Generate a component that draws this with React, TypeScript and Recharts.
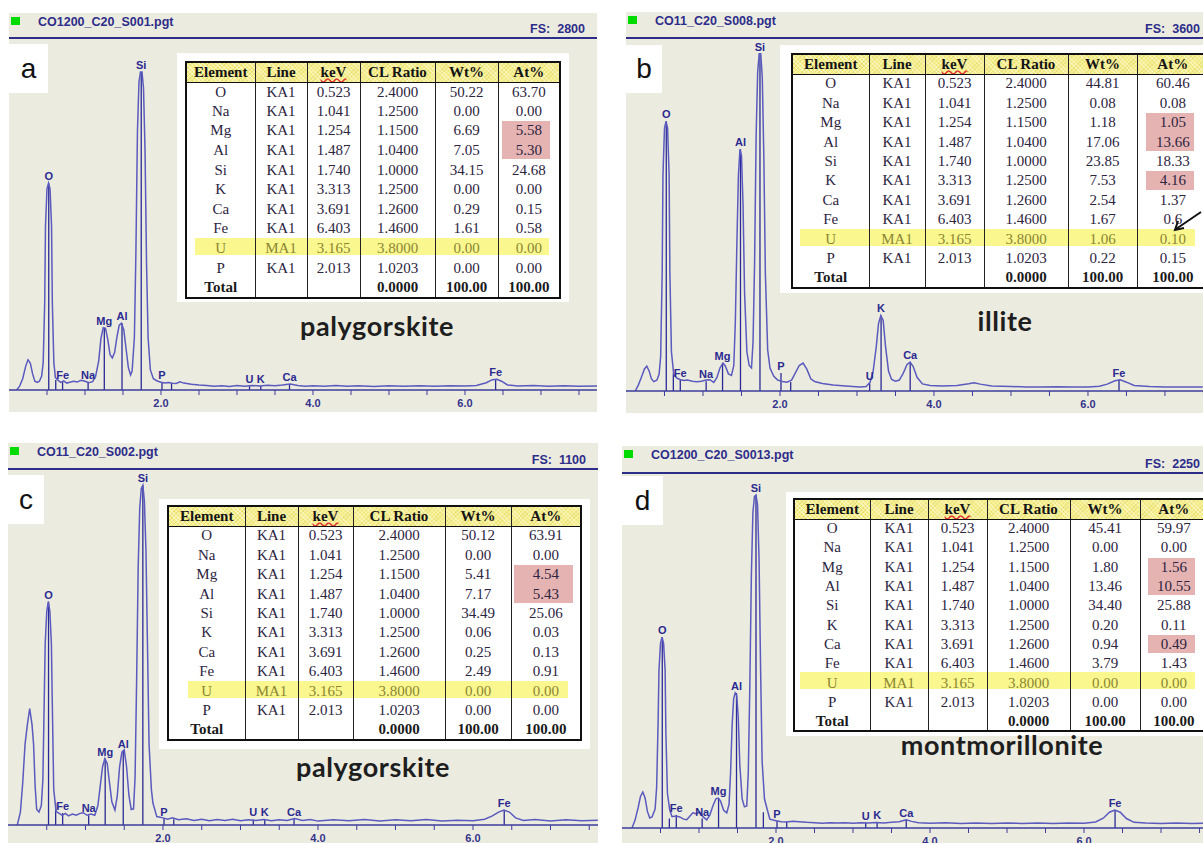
import { LineChart, Line, XAxis, YAxis, ReferenceLine, ReferenceDot } from 'recharts';

// x-axis ticks (keV), labels only on the even ones
const tickKeV = [0.5, 1.0, 1.5, 2.0, 2.5, 3.0, 3.5, 4.0, 4.5, 5.0, 5.5, 6.0, 6.5, 7.0, 7.5];

// quantification table (same rows in all four panels)
const headers = ['Element', 'Line', 'keV', 'CL Ratio', 'Wt%', 'At%'];
const elements = ['O', 'Na', 'Mg', 'Al', 'Si', 'K', 'Ca', 'Fe', 'U', 'P'];
const lineNames = ['KA1', 'KA1', 'KA1', 'KA1', 'KA1', 'KA1', 'KA1', 'KA1', 'MA1', 'KA1'];
const keVs = ['0.523', '1.041', '1.254', '1.487', '1.740', '3.313', '3.691', '6.403', '3.165', '2.013'];
const clRatios = ['2.4000', '1.2500', '1.1500', '1.0400', '1.0000', '1.2500', '1.2600', '1.4600', '3.8000', '1.0203'];
const totalRow = ['Total', '', '', '0.0000', '100.00', '100.00'];

const wtA = [50.22, 0.0, 6.69, 7.05, 34.15, 0.0, 0.29, 1.61, 0.0, 0.0];
const atA = ['63.70', '0.00', '5.58', '5.30', '24.68', '0.00', '0.15', '0.58', '0.00', '0.00'];
const wtB = [44.81, 0.08, 1.18, 17.06, 23.85, 7.53, 2.54, 1.67, 1.06, 0.22];
const atB = ['60.46', '0.08', '1.05', '13.66', '18.33', '4.16', '1.37', '0.6', '0.10', '0.15'];
const wtC = [50.12, 0.0, 5.41, 7.17, 34.49, 0.06, 0.25, 2.49, 0.0, 0.0];
const atC = ['63.91', '0.00', '4.54', '5.43', '25.06', '0.03', '0.13', '0.91', '0.00', '0.00'];
const wtD = [45.41, 0.0, 1.8, 13.46, 34.4, 0.2, 0.94, 3.79, 0.0, 0.0];
const atD = ['59.97', '0.00', '1.56', '10.55', '25.88', '0.11', '0.49', '1.43', '0.00', '0.00'];

// spectra: [keV, counts]
const spectrumA: [number, number][] = [
  [0.1, 0], [0.14, 30], [0.18, 90], [0.22, 190], [0.25, 240], [0.28, 215], [0.31, 130], [0.34, 70], [0.37, 60],
  [0.4, 70], [0.43, 110], [0.45, 220], [0.47, 700], [0.48, 1300], [0.5, 1600], [0.52, 1645], [0.54, 1600],
  [0.56, 1300], [0.57, 700], [0.59, 220], [0.61, 100], [0.64, 80], [0.68, 60], [0.72, 72], [0.76, 55], [0.8, 62],
  [0.85, 70], [0.9, 64], [0.95, 78], [1.0, 70], [1.05, 58], [1.1, 66], [1.14, 110], [1.18, 230], [1.21, 410],
  [1.24, 495], [1.27, 490], [1.3, 400], [1.33, 280], [1.36, 255], [1.39, 300], [1.42, 420], [1.45, 515],
  [1.48, 530], [1.51, 480], [1.54, 330], [1.57, 180], [1.6, 120], [1.62, 150], [1.65, 420], [1.67, 1100],
  [1.69, 2050], [1.71, 2450], [1.73, 2530], [1.75, 2530], [1.77, 2400], [1.79, 1900], [1.81, 1000], [1.83, 420],
  [1.86, 160], [1.9, 90], [1.95, 72], [2.0, 62], [2.05, 56], [2.1, 60], [2.15, 54], [2.2, 52], [2.25, 66],
  [2.3, 55], [2.4, 46], [2.5, 40], [2.6, 36], [2.7, 30], [2.8, 34], [2.9, 28], [3.0, 35], [3.1, 30], [3.2, 36],
  [3.3, 32], [3.4, 38], [3.5, 34], [3.6, 40], [3.7, 48], [3.8, 36], [3.9, 30], [4.0, 34], [4.15, 30], [4.3, 36],
  [4.45, 30], [4.6, 33], [4.8, 28], [5.0, 34], [5.2, 30], [5.4, 34], [5.6, 29], [5.8, 33], [6.0, 31], [6.15, 36],
  [6.28, 58], [6.36, 82], [6.42, 86], [6.48, 70], [6.56, 40], [6.7, 32], [6.9, 36], [7.1, 30], [7.3, 34],
  [7.5, 30], [7.74, 32],
];

const spectrumB: [number, number][] = [
  [0.12, 0], [0.16, 60], [0.2, 140], [0.24, 225], [0.27, 254], [0.3, 205], [0.33, 125], [0.36, 95], [0.4, 110],
  [0.43, 170], [0.45, 350], [0.47, 1200], [0.48, 2200], [0.5, 2680], [0.52, 2750], [0.54, 2680], [0.56, 2200],
  [0.57, 1200], [0.59, 400], [0.62, 170], [0.66, 132], [0.7, 118], [0.75, 108], [0.8, 112], [0.86, 100],
  [0.92, 95], [0.98, 100], [1.04, 112], [1.09, 115], [1.14, 88], [1.18, 135], [1.22, 235], [1.26, 285],
  [1.29, 255], [1.33, 175], [1.37, 160], [1.4, 260], [1.42, 700], [1.44, 1500], [1.46, 2200], [1.48, 2465],
  [1.5, 2400], [1.52, 1900], [1.54, 1000], [1.57, 400], [1.6, 260], [1.63, 235], [1.65, 500], [1.67, 1300],
  [1.69, 2600], [1.71, 3250], [1.73, 3440], [1.75, 3440], [1.77, 3200], [1.79, 2400], [1.81, 1200], [1.84, 420],
  [1.87, 235], [1.92, 150], [1.97, 112], [2.03, 96], [2.09, 90], [2.15, 110], [2.2, 185], [2.25, 260],
  [2.3, 285], [2.35, 220], [2.4, 125], [2.45, 96], [2.55, 76], [2.69, 61], [2.85, 52], [3.04, 42], [3.12, 46],
  [3.17, 90], [3.21, 200], [3.25, 450], [3.28, 690], [3.31, 770], [3.34, 720], [3.37, 460], [3.41, 200],
  [3.45, 118], [3.5, 100], [3.55, 112], [3.6, 180], [3.65, 270], [3.69, 295], [3.73, 250], [3.78, 140],
  [3.85, 72], [3.95, 56], [4.1, 50], [4.3, 56], [4.45, 74], [4.52, 84], [4.6, 70], [4.75, 50], [5.0, 46],
  [5.2, 42], [5.4, 40], [5.6, 43], [5.8, 40], [6.0, 42], [6.15, 48], [6.25, 70], [6.35, 105], [6.42, 114],
  [6.5, 90], [6.6, 56], [6.8, 46], [7.0, 42], [7.2, 40], [7.49, 40],
];

const spectrumC: [number, number][] = [
  [0.12, 0], [0.16, 40], [0.19, 130], [0.22, 250], [0.25, 310], [0.28, 360], [0.31, 310], [0.33, 250],
  [0.35, 120], [0.37, 48], [0.4, 40], [0.43, 60], [0.45, 140], [0.47, 420], [0.48, 560], [0.5, 660], [0.52, 690],
  [0.54, 660], [0.56, 560], [0.57, 400], [0.59, 110], [0.62, 42], [0.66, 36], [0.7, 30], [0.74, 36], [0.78, 28],
  [0.83, 34], [0.88, 30], [0.93, 36], [0.97, 38], [1.02, 30], [1.07, 34], [1.12, 30], [1.16, 60], [1.19, 120],
  [1.22, 180], [1.25, 205], [1.28, 190], [1.31, 130], [1.34, 72], [1.38, 46], [1.41, 90], [1.44, 180],
  [1.47, 225], [1.5, 232], [1.53, 180], [1.56, 92], [1.59, 48], [1.62, 50], [1.64, 150], [1.66, 450],
  [1.68, 800], [1.7, 980], [1.72, 1040], [1.74, 1050], [1.76, 1000], [1.78, 850], [1.8, 550], [1.82, 250],
  [1.85, 110], [1.87, 68], [1.92, 26], [2.0, 22], [2.06, 18], [2.12, 22], [2.2, 16], [2.3, 19], [2.4, 14],
  [2.5, 18], [2.6, 13], [2.7, 17], [2.8, 14], [2.9, 18], [3.0, 13], [3.1, 16], [3.2, 14], [3.3, 17], [3.4, 13],
  [3.5, 16], [3.6, 14], [3.7, 20], [3.8, 14], [3.9, 17], [4.0, 12], [4.2, 16], [4.4, 13], [4.6, 17], [4.8, 12],
  [5.0, 16], [5.2, 13], [5.4, 17], [5.6, 12], [5.8, 15], [6.0, 13], [6.15, 18], [6.25, 28], [6.33, 40],
  [6.4, 46], [6.47, 40], [6.55, 22], [6.65, 14], [6.8, 17], [7.0, 12], [7.2, 16], [7.4, 13], [7.61, 15],
];

const spectrumD: [number, number][] = [
  [0.13, 0], [0.17, 50], [0.21, 130], [0.24, 200], [0.27, 228], [0.3, 190], [0.33, 105], [0.36, 64], [0.39, 70],
  [0.43, 120], [0.45, 260], [0.47, 700], [0.48, 1000], [0.5, 1170], [0.52, 1210], [0.54, 1170], [0.56, 1000],
  [0.57, 600], [0.59, 220], [0.62, 114], [0.65, 72], [0.7, 76], [0.75, 70], [0.8, 56], [0.84, 52], [0.88, 75],
  [0.92, 96], [0.96, 90], [1.01, 100], [1.05, 72], [1.1, 52], [1.14, 82], [1.18, 140], [1.22, 185], [1.25, 190],
  [1.28, 170], [1.32, 112], [1.36, 96], [1.39, 150], [1.41, 350], [1.43, 650], [1.45, 820], [1.47, 856],
  [1.49, 840], [1.51, 700], [1.53, 400], [1.56, 185], [1.59, 134], [1.62, 140], [1.64, 350], [1.66, 900],
  [1.68, 1600], [1.7, 2000], [1.72, 2100], [1.74, 2110], [1.76, 2050], [1.78, 1700], [1.8, 1000], [1.82, 420],
  [1.85, 185], [1.88, 128], [1.92, 56], [2.0, 46], [2.07, 40], [2.14, 38], [2.22, 42], [2.3, 40], [2.4, 36],
  [2.5, 34], [2.6, 30], [2.7, 34], [2.8, 31], [2.9, 33], [3.0, 30], [3.1, 34], [3.2, 31], [3.3, 35], [3.4, 32],
  [3.5, 36], [3.6, 40], [3.69, 52], [3.76, 42], [3.85, 34], [4.0, 30], [4.2, 33], [4.4, 29], [4.6, 32],
  [4.8, 28], [5.0, 31], [5.2, 29], [5.4, 32], [5.6, 28], [5.8, 31], [6.0, 30], [6.15, 38], [6.25, 62],
  [6.33, 100], [6.4, 114], [6.47, 100], [6.55, 60], [6.65, 36], [6.8, 32], [7.0, 29], [7.2, 31], [7.4, 28],
  [7.55, 30],
];

// element marker lines: [label, keV, height in counts]
const markersA: [string, number, number][] = [
  ['O', 0.523, 1645], ['', 0.615, 80], ['Fe', 0.705, 64], ['Na', 1.041, 64], ['Mg', 1.254, 495],
  ['Al', 1.487, 530], ['Si', 1.74, 2530], ['P', 2.013, 62], ['', 2.139, 56], ['U', 3.165, 32], ['K', 3.313, 32],
  ['Ca', 3.691, 46], ['Fe', 6.403, 84],
];
const markersB: [string, number, number][] = [
  ['O', 0.523, 2750], ['', 0.615, 180], ['Fe', 0.705, 112], ['Na', 1.041, 100], ['Mg', 1.254, 285],
  ['Al', 1.487, 2465], ['Si', 1.74, 3440], ['P', 2.013, 183], ['', 2.139, 92], ['U', 3.165, 80], ['K', 3.313, 770],
  ['Ca', 3.691, 295], ['Fe', 6.403, 114],
];
const markersC: [string, number, number][] = [
  ['O', 0.523, 690], ['', 0.615, 68], ['Fe', 0.705, 37], ['Na', 1.041, 30], ['Mg', 1.254, 205],
  ['Al', 1.487, 230], ['Si', 1.74, 1050], ['P', 2.013, 20], ['', 2.139, 18], ['U', 3.165, 17], ['K', 3.313, 17],
  ['Ca', 3.691, 20], ['Fe', 6.403, 46],
];
const markersD: [string, number, number][] = [
  ['O', 0.523, 1210], ['', 0.615, 60], ['Fe', 0.705, 82], ['Na', 1.041, 60], ['Mg', 1.254, 190],
  ['Al', 1.487, 856], ['Si', 1.74, 2110], ['', 1.836, 100], ['P', 2.013, 46], ['', 2.139, 40], ['U', 3.165, 34],
  ['K', 3.313, 35], ['Ca', 3.691, 52], ['Fe', 6.403, 114],
];

const SANS = '"Liberation Sans", Arial, sans-serif';
const SERIF = '"Liberation Serif", "Times New Roman", serif';
const NAVY = '#2d2d8a';
const PANEL_BG = '#ECEBDF';

const panels = [
  {
    letter: 'a', file: 'CO1200_C20_S001.pgt', fs: 2800, mineral: 'palygorskite',
    spectrum: spectrumA, markers: markersA, wt: wtA, at: atA, pink: [[2, 2]],
    box: { x: 9, y: 13, w: 588, h: 399 }, topY: 38, baseY: 390, maxKeV: 7.737, fsRight: 12,
    letterBox: { x: 9, y: 44, w: 39, h: 49 }, mineralPos: { x: 377, y: 326 },
    table: { bgX: 177, bgY: 53, bgW: 392, bgH: 249, x: 185, y: 61, cols: [69, 52, 53, 75, 63, 62], rowH: 19.6, pinkW: 48, u: [10, 364] },
  },
  {
    letter: 'b', file: 'CO11_C20_S008.pgt', fs: 3600, mineral: 'illite',
    spectrum: spectrumB, markers: markersB, wt: wtB, at: atB, pink: [[2, 2], [5, 1]],
    box: { x: 626, y: 12, w: 577, h: 401 }, topY: 38, baseY: 391, maxKeV: 7.494, fsRight: 3,
    letterBox: { x: 626, y: 45, w: 36, h: 48 }, mineralPos: { x: 1005, y: 321 },
    table: { bgX: 780, bgY: 45, bgW: 423, bgH: 248, x: 791, y: 53, cols: [77, 56, 59, 84, 69, 72], rowH: 19.45, pinkW: 48, u: [9, 404] },
  },
  {
    letter: 'c', file: 'CO11_C20_S002.pgt', fs: 1100, mineral: 'palygorskite',
    spectrum: spectrumC, markers: markersC, wt: wtC, at: atC, pink: [[2, 2]],
    box: { x: 8, y: 443, w: 590, h: 400 }, topY: 469, baseY: 825, maxKeV: 7.613, fsRight: 12,
    letterBox: { x: 8, y: 475, w: 36, h: 49 }, mineralPos: { x: 373, y: 767 },
    table: { bgX: 159, bgY: 499, bgW: 431, bgH: 250, x: 167, y: 505, cols: [77, 53, 55, 92, 66, 70], rowH: 19.45, pinkW: 59, u: [21, 401] },
  },
  {
    letter: 'd', file: 'CO1200_C20_S0013.pgt', fs: 2250, mineral: 'montmorillonite',
    spectrum: spectrumD, markers: markersD, wt: wtD, at: atD, pink: [[2, 2], [6, 1]],
    box: { x: 622, y: 446, w: 581, h: 397 }, topY: 473, baseY: 828, maxKeV: 7.545, fsRight: 3,
    letterBox: { x: 622, y: 476, w: 41, h: 49 }, mineralPos: { x: 1002, y: 745 },
    table: { bgX: 786, bgY: 492, bgW: 417, bgH: 244, x: 793, y: 498, cols: [76, 58, 59, 83, 70, 68], rowH: 19.3, pinkW: 47, u: [7, 402] },
  },
];

type PanelT = (typeof panels)[number];

function Spectrum({ p }: { p: PanelT }) {
  const plotH = p.baseY - p.topY;
  const data = p.spectrum.map(([e, c]) => ({ e, c }));
  return (
    <div style={{ position: 'absolute', left: p.box.x, top: p.topY - 2 }}>
      <LineChart width={p.box.w} height={plotH + 32} data={data} margin={{ top: 2, right: 0, bottom: 0, left: 0 }}>
        <XAxis
          dataKey="e"
          type="number"
          domain={[0, p.maxKeV]}
          allowDataOverflow
          ticks={tickKeV}
          interval={0}
          tickFormatter={(v: number) => (v % 2 === 0 ? v.toFixed(1) : '')}
          tickSize={5}
          tickMargin={4}
          height={30}
          axisLine={{ stroke: '#3c3c9c', strokeWidth: 1.5 }}
          tickLine={{ stroke: '#3c3c9c' }}
          tick={{ fill: '#34348c', fontSize: 11, fontWeight: 'bold', fontFamily: SANS }}
        />
        <YAxis hide type="number" domain={[0, p.fs]} allowDataOverflow />
        <ReferenceLine y={p.fs} stroke={NAVY} strokeWidth={2} />
        {p.markers.map(([, e, h], i) => (
          <ReferenceLine key={'m' + i} segment={[{ x: e, y: 0 }, { x: e, y: h }]} stroke="#2a2a96" strokeWidth={1.3} />
        ))}
        <Line dataKey="c" type="linear" stroke="#5a5abf" strokeWidth={1.5} dot={false} isAnimationActive={false} />
        {p.markers
          .filter((m) => m[0])
          .map(([el, e, h], i) => (
            <ReferenceDot
              key={'d' + i}
              x={e}
              y={h}
              r={0}
              fill="none"
              stroke="none"
              label={{ value: el, position: 'top', offset: 3, fill: '#2a2a90', fontSize: 11, fontWeight: 'bold', fontFamily: SANS }}
            />
          ))}
      </LineChart>
    </div>
  );
}

function ResultTable({ p }: { p: PanelT }) {
  const t = p.table;
  const headH = 20;
  const fullW = t.cols.reduce((s, c) => s + c, 0);
  const colLeft = (i: number) => t.cols.slice(0, i).reduce((s, c) => s + c, 0);
  const atCenter = colLeft(5) + t.cols[5] / 2 - 2;
  const cell = (i: number): React.CSSProperties => ({
    padding: 0,
    textAlign: 'center',
    borderLeft: i === 0 ? '2px solid #111' : '1.5px solid #222',
    whiteSpace: 'nowrap',
    overflow: 'hidden',
  });
  return (
    <div style={{ position: 'absolute', left: t.bgX, top: t.bgY, width: t.bgW, height: t.bgH, background: '#fff', overflow: 'hidden' }}>
      <div style={{ position: 'absolute', left: t.x - t.bgX, top: t.y - t.bgY, width: fullW }}>
        {p.pink.map(([r, n], i) => (
          <div
            key={i}
            style={{
              position: 'absolute',
              left: atCenter - t.pinkW / 2,
              width: t.pinkW,
              top: headH + r * t.rowH + 1,
              height: n * t.rowH - 1,
              background: '#E6B3B3',
            }}
          />
        ))}
        <div
          style={{
            position: 'absolute',
            left: t.u[0],
            width: t.u[1] - t.u[0],
            top: headH + 8 * t.rowH,
            height: 17,
            background: '#FAF78E',
          }}
        />
        <table
          style={{
            position: 'relative',
            borderCollapse: 'collapse',
            tableLayout: 'fixed',
            width: fullW,
            border: '2px solid #111',
            fontFamily: SERIF,
            fontSize: 15,
            color: '#2c2440',
          }}
        >
          <colgroup>
            {t.cols.map((w, i) => (
              <col key={i} style={{ width: w }} />
            ))}
          </colgroup>
          <thead>
            <tr style={{ height: headH }}>
              {headers.map((h, i) => (
                <th
                  key={h}
                  style={{
                    ...cell(i),
                    borderBottom: '1.5px solid #111',
                    fontWeight: 'bold',
                    color: '#141414',
                    backgroundColor: '#F7F08C',
                    backgroundImage:
                      'repeating-linear-gradient(45deg, rgba(255,255,255,0.45) 0 1px, transparent 1px 3px), repeating-linear-gradient(-45deg, rgba(200,190,60,0.35) 0 1px, transparent 1px 3px)',
                    textDecoration: h === 'keV' ? 'underline wavy #e03030' : 'none',
                  }}
                >
                  {h}
                </th>
              ))}
            </tr>
          </thead>
          <tbody>
            {elements.map((el, r) => {
              const row = [el, lineNames[r], keVs[r], clRatios[r], p.wt[r].toFixed(2), p.at[r]];
              return (
                <tr key={el} style={{ height: t.rowH }}>
                  {row.map((v, i) => (
                    <td key={i} style={{ ...cell(i), color: el === 'U' ? '#8a8632' : undefined }}>
                      {v}
                    </td>
                  ))}
                </tr>
              );
            })}
            <tr style={{ height: t.rowH }}>
              {totalRow.map((v, i) => (
                <td key={i} style={{ ...cell(i), fontWeight: 'bold', color: '#1a1a1a', lineHeight: '17px' }}>
                  {v}
                </td>
              ))}
            </tr>
          </tbody>
        </table>
      </div>
    </div>
  );
}

function Panel({ p }: { p: PanelT }) {
  const b = p.box;
  return (
    <>
      <div style={{ position: 'absolute', left: b.x, top: b.y, width: b.w, height: b.h, background: PANEL_BG }} />
      <div style={{ position: 'absolute', left: b.x + 2, top: b.y + 4, width: 9, height: 8, background: '#00DC00' }} />
      <div
        style={{
          position: 'absolute',
          left: b.x + 29,
          top: b.y + 1,
          fontFamily: SANS,
          fontWeight: 'bold',
          fontSize: 12.5,
          color: NAVY,
          lineHeight: '16px',
        }}
      >
        {p.file}
      </div>
      <div
        style={{
          position: 'absolute',
          right: 1203 - (b.x + b.w) + p.fsRight,
          top: p.topY - 16,
          fontFamily: SANS,
          fontWeight: 'bold',
          fontSize: 12.5,
          color: NAVY,
          lineHeight: '14px',
          whiteSpace: 'pre',
        }}
      >
        {'FS:  ' + p.fs}
      </div>
      <Spectrum p={p} />
      <ResultTable p={p} />
      <div
        style={{
          position: 'absolute',
          left: p.letterBox.x,
          top: p.letterBox.y,
          width: p.letterBox.w,
          height: p.letterBox.h,
          background: '#fff',
          display: 'flex',
          alignItems: 'center',
          justifyContent: 'center',
          fontFamily: SANS,
          fontSize: 28,
          color: '#111',
        }}
      >
        {p.letter}
      </div>
      <div
        style={{
          position: 'absolute',
          left: p.mineralPos.x,
          top: p.mineralPos.y,
          transform: 'translate(-50%, -50%)',
          fontFamily: 'Lato, "Open Sans", sans-serif',
          fontWeight: 'bold',
          fontSize: 27,
          letterSpacing: 0.6,
          lineHeight: '24px',
          color: '#1e1e1e',
          whiteSpace: 'nowrap',
        }}
      >
        {p.mineral}
      </div>
    </>
  );
}

export default function App() {
  return (
    <div style={{ position: 'relative', width: 1203, height: 843, overflow: 'hidden', background: '#fff' }}>
      <style>{'body{margin:0}'}</style>
      {panels.map((p) => (
        <Panel key={p.letter} p={p} />
      ))}
      {/* arrow pointing at the U row in panel b */}
      <svg width={1203} height={843} style={{ position: 'absolute', left: 0, top: 0, pointerEvents: 'none' }}>
        <line x1={1201} y1={212} x2={1176} y2={229} stroke="#111" strokeWidth={2} />
        <polyline points="1184,228 1175,230 1178,221" fill="none" stroke="#111" strokeWidth={2} />
      </svg>
    </div>
  );
}
